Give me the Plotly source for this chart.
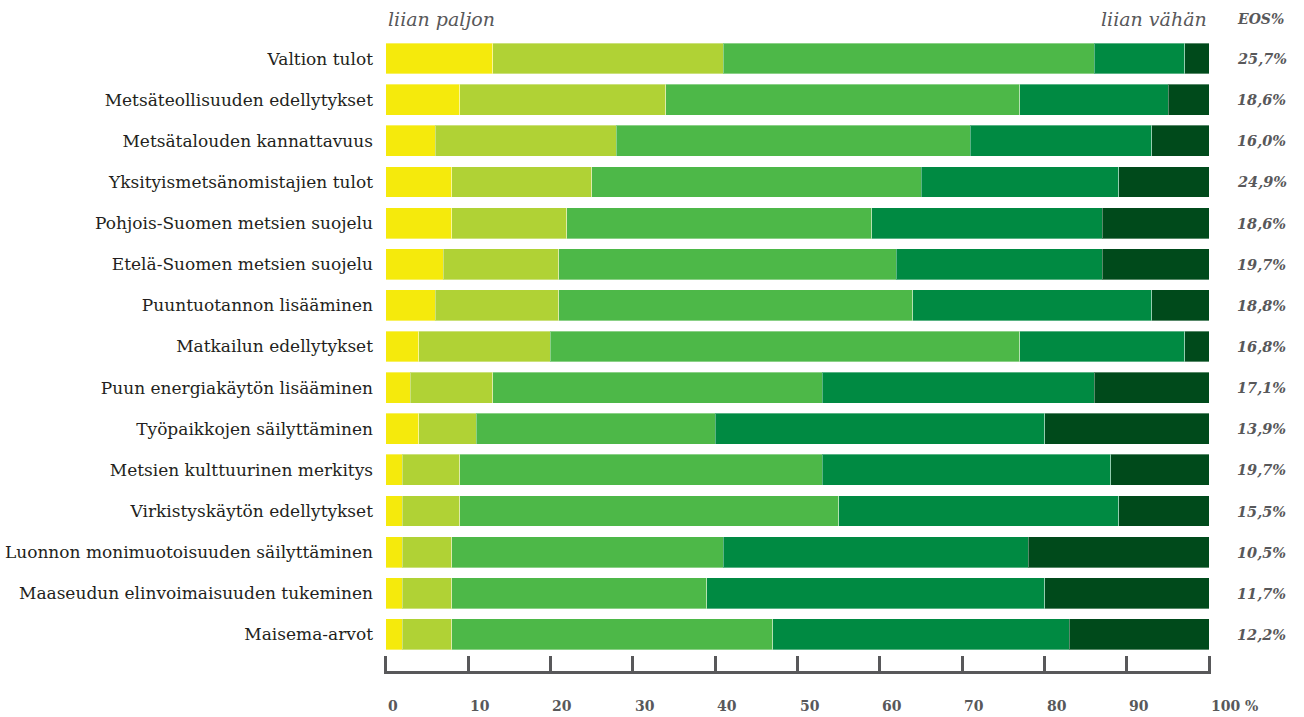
import plotly.graph_objects as go

categories = [
    "Valtion tulot",
    "Metsäteollisuuden edellytykset",
    "Metsätalouden kannattavuus",
    "Yksityismetsänomistajien tulot",
    "Pohjois-Suomen metsien suojelu",
    "Etelä-Suomen metsien suojelu",
    "Puuntuotannon lisääminen",
    "Matkailun edellytykset",
    "Puun energiakäytön lisääminen",
    "Työpaikkojen säilyttäminen",
    "Metsien kulttuurinen merkitys",
    "Virkistyskäytön edellytykset",
    "Luonnon monimuotoisuuden säilyttäminen",
    "Maaseudun elinvoimaisuuden tukeminen",
    "Maisema-arvot",
]

much_too_much = [13, 9, 6, 8, 8, 7, 6, 4, 3, 4, 2, 2, 2, 2, 2]
somewhat_too_much = [28, 25, 22, 17, 14, 14, 15, 16, 10, 7, 7, 7, 6, 6, 6]
suitable = [45, 43, 43, 40, 37, 41, 43, 57, 40, 29, 44, 46, 33, 31, 39]
somewhat_too_little = [11, 18, 22, 24, 28, 25, 29, 20, 33, 40, 35, 34, 37, 41, 36]
much_too_little = [3, 5, 7, 11, 13, 13, 7, 3, 14, 20, 12, 11, 22, 20, 17]

eos_labels = ["25,7%", "18,6%", "16,0%", "24,9%", "18,6%", "19,7%", "18,8%", "16,8%",
              "17,1%", "13,9%", "19,7%", "15,5%", "10,5%", "11,7%", "12,2%"]

tick_values = [0, 10, 20, 30, 40, 50, 60, 70, 80, 90, 100]
tick_texts = ["0", "10", "20", "30", "40", "50", "60", "70", "80", "90", "100 %"]

series = [
    ("liian paljon", much_too_much, "#F5EA0C"),
    ("hieman liikaa", somewhat_too_much, "#B0D235"),
    ("sopivasti", suitable, "#4DB848"),
    ("hieman liian vähän", somewhat_too_little, "#008A42"),
    ("liian vähän", much_too_little, "#004A1B"),
]

GRAY = "#58585a"
SERIF = "DejaVu Serif"

fig = go.Figure()
for name, vals, color in series:
    fig.add_trace(go.Bar(
        y=categories, x=vals, name=name, orientation="h",
        marker=dict(color=color, line=dict(color="rgba(255,255,255,0.35)", width=1)),
        width=0.75, hoverinfo="x+y+name",
    ))

annotations = []
for cat, lab in zip(categories, eos_labels):
    annotations.append(dict(
        x=1.0285, xref="paper", y=cat, yref="y", text=lab, showarrow=False,
        xanchor="left", yanchor="middle",
        font=dict(family=SERIF, size=14.5, color=GRAY, weight="bold", style="italic"),
    ))
for v, t in zip(tick_values, tick_texts):
    annotations.append(dict(
        x=v, xref="x", y=0, yref="paper", yshift=-35, text=t, showarrow=False,
        xanchor="left", yanchor="middle",
        font=dict(family=SERIF, size=14, color=GRAY, weight="bold"),
    ))
annotations += [
    dict(x=0.002, xref="paper", y=1.0, yref="paper", yshift=19, text="liian paljon", showarrow=False,
         xanchor="left", yanchor="middle", font=dict(family=SERIF, size=19, color=GRAY, style="italic")),
    dict(x=0.9975, xref="paper", y=1.0, yref="paper", yshift=19, text="liian vähän", showarrow=False,
         xanchor="right", yanchor="middle", font=dict(family=SERIF, size=19, color=GRAY, style="italic")),
    dict(x=1.0285, xref="paper", y=1.0, yref="paper", yshift=19, text="EOS%", showarrow=False,
         xanchor="left", yanchor="middle",
         font=dict(family=SERIF, size=14, color=GRAY, weight="bold", style="italic")),
]

fig.update_layout(
    width=1304, height=717,
    barmode="stack", showlegend=False,
    plot_bgcolor="white", paper_bgcolor="white",
    margin=dict(l=384, r=93, t=38, b=46, autoexpand=False),
    bargap=0.25,
    annotations=annotations,
)
fig.update_xaxes(
    range=[-0.2, 100.2], tickvals=tick_values, showticklabels=False,
    ticks="inside", ticklen=15, tickwidth=3, tickcolor=GRAY,
    showline=True, linewidth=3, linecolor=GRAY, showgrid=False, zeroline=False,
)
fig.update_yaxes(
    categoryorder="array", categoryarray=categories,
    range=[14.89, -0.5], showgrid=False, zeroline=False, showline=False,
    ticks="", ticklabelstandoff=10, automargin=False,
    tickfont=dict(family=SERIF, size=17, color="#231f20"),
)

fig.write_html(
    "out.html",
    config={"displayModeBar": False},
    post_script="document.body.style.margin='0';document.body.style.overflow='hidden';",
)
